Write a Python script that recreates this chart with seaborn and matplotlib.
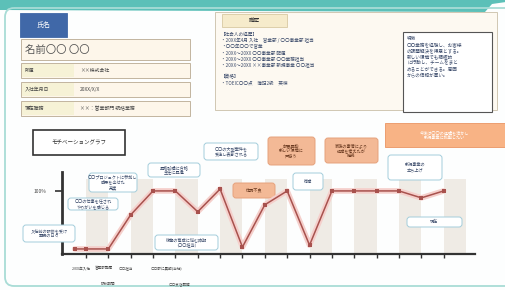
import numpy as np
import pandas as pd
import matplotlib.pyplot as plt
import seaborn as sns
from matplotlib.patches import FancyBboxPatch, Rectangle, Polygon

# motivation curve: stage index vs motivation (%)
stage = [-0.5, 0, 1, 2, 3, 4, 5, 6, 7, 8, 9, 10, 11, 12, 13, 14, 15, 16]
motivation = [8, 8, 8, 62, 100, 100, 67, 103, 11, 78, 100, 14, 100, 100, 100, 100, 89, 100]

# x tick labels under the chart (stage index, label, row)
tick_labels = [(-0.2, "20XX年入社", 0), (0.8, "営業部配属", 0), (1.8, "〇〇担当", 0),
               (1, "研修期間", 1), (3.6, "〇〇部に異動(当社)", 0), (4.2, "〇〇支店勤務", 1)]

profile_rows = [("所属", "××株式会社"), ("入社年月日", "20XX/X/X"),
                ("現在職務", "××：営業部門 統括業務")]

career_lines = ["【社会人の経歴】",
                "・20XX年4月 入社　営業部 / 〇〇事業部 担当",
                "・〇〇年〇〇で営業",
                "・20XX〜20XX 〇〇事業部 配属",
                "・20XX〜20XX 〇〇事業部 〇〇業務担当",
                "・20XX〜20XX ××事業部 新規事業 〇〇担当",
                "",
                "【資格】",
                "・TOEIC〇〇点　簿記2級　英検"]

feature_text = "特徴\n〇〇業務を経験し、お客様\nの課題解決を得意とする。\n新しい環境でも積極的\nに行動し、チームをまと\nめることができる。周囲\nからの信頼が厚い。"

# annotation boxes: (x0, y0, x1, y1) in pixels, text, kind
notes = [((23, 225, 75, 242), "入社前の研修を受け\n緊張の日々", "w"),
         ((68, 198, 118, 210), "〇〇の仕事を任され\nやりがいを感じる", "w"),
         ((89, 173, 137, 192), "〇〇プロジェクトに参加し\n成果を出せた\n充実", "w"),
         ((148, 163, 200, 177), "昇格試験に合格\n主任に昇進", "w"),
         ((204, 143, 258, 160), "〇〇の大型案件を\n受注し表彰される", "w"),
         ((155, 235, 218, 250), "後輩の育成に悩む時期\n（〇〇担当）", "w"),
         ((268, 137, 315, 165), "部署異動\n新しい環境に\n戸惑う", "o"),
         ((325, 138, 378, 163), "家族の事情により\n退職を考えたが\n継続", "o"),
         ((385, 123, 505, 147), "今後は〇〇の経験を活かし\n新規事業に挑戦したい", "O"),
         ((388, 155, 442, 180), "新規事業の\n立ち上げ", "w"),
         ((293, 173, 323, 190), "復職", "w"),
         ((407, 217, 462, 227), "現在", "w")]
# small note sitting behind the curve
back_note = ((233, 183, 275, 198), "体調不良")

sns.set_theme(style="white")
plt.rcParams['font.family'] = ['Noto Sans CJK JP', 'DejaVu Sans']

W, H = 506, 290
fig = plt.figure(figsize=(W / 100, H / 100), dpi=100)
fig.patch.set_facecolor("#fdfefe")


def pixel_axes(rect, z):
    a = fig.add_axes(rect)
    a.set_xlim(0, W)
    a.set_ylim(H, 0)
    a.axis("off")
    a.patch.set_alpha(0)
    a.set_zorder(z)
    return a


bg = pixel_axes([0, 0, 1, 1], 0)
fg = pixel_axes([0, 0, 1, 1], 2)

teal = "#5cc0b8"
bg.add_patch(Polygon([(0, 0), (506, 0), (506, 2), (492, 4), (485, 12), (0, 10)],
                     closed=True, color=teal, lw=0))
bg.add_patch(FancyBboxPatch((5, 8), 530, 278, boxstyle="round,pad=0,rounding_size=9",
                            fc="none", ec="#a8dcd6", lw=1.3))


def box(target, x0, y0, x1, y1, fc, ec, lw=0.6, rounded=False, **kw):
    style = "round,pad=0,rounding_size=3" if rounded else "square,pad=0"
    target.add_patch(FancyBboxPatch((x0, y0), x1 - x0, y1 - y0, boxstyle=style,
                                    fc=fc, ec=ec, lw=lw, **kw))


# profile block
box(bg, 20, 13, 67, 37, "#4068a8", "#4068a8")
bg.text(43.5, 25, "氏名", color="white", fontsize=5, ha="center", va="center")
box(bg, 21, 39, 190, 60, "#fdf6ea", "#b8aa92")
bg.text(25, 49.5, "名前〇〇 〇〇", fontsize=7.5, color="#555555", va="center")
for i, (lab, val) in enumerate(profile_rows):
    y0 = 63 + i * 19
    box(bg, 21, y0, 190, y0 + 15, "#fdf6ea", "#b8aa92")
    bg.add_patch(Rectangle((22, y0 + 1), 52, 13, fc="#f6f2d6", ec="none"))
    bg.text(25, y0 + 7.5, lab, fontsize=3.5, color="#444444", va="center")
    bg.text(80, y0 + 7.5, val, fontsize=3.5, color="#444444", va="center")

# career block
box(bg, 215, 12, 497, 110, "#fdf9f1", "#c9bfa8")
box(bg, 222, 14, 287, 27, "#f6ebcb", "#d8c9a2")
bg.text(254.5, 20.5, "職歴", fontsize=4, color="#333333", ha="center", va="center")
bg.text(221, 32, "\n".join(career_lines), fontsize=3.3, color="#3a4a6a",
        va="top", linespacing=1.25)
box(bg, 403, 32, 492, 112, "white", "#555555", lw=0.8)
bg.text(407, 36, feature_text, fontsize=3.3, color="#3a4a6a", va="top", linespacing=1.25)

# chart title box
box(bg, 33, 130, 125, 155, "white", "#333333", lw=1.2)
bg.text(79, 142.5, "モチベーショングラフ", fontsize=4, color="#333333", ha="center", va="center")

# chart axes
x0, x1, yb, yt = 62, 475, 254, 172
ax = fig.add_axes([x0 / W, (H - yb) / H, (x1 - x0) / W, (yb - yt) / H])
ax.patch.set_alpha(0)
ax.set_zorder(1)
ax.set_xlim(-1.07, 17.4)
ax.set_ylim(0, 130)
for k in range(0, 17, 2):
    ax.axvspan(k, k + 1, ymax=0.92, color="#efebe5", lw=0, zorder=0)

# note behind the curve, above the bands
(a, b, c, d), txt = back_note
box(ax, a, b, c, d, "#f3b996", "#e6a27c", lw=0.7, rounded=True,
    transform=bg.transData, zorder=1, clip_on=False)
ax.text((a + c) / 2, (b + d) / 2, txt, fontsize=3, color="#6a3a20", ha="center",
        va="center", transform=bg.transData, zorder=1)

df = pd.DataFrame({"stage": stage, "motivation": motivation})
sns.lineplot(data=df, x="stage", y="motivation", ax=ax, color="#f5cfcb",
             lw=4, zorder=2, legend=False)
sns.lineplot(data=df, x="stage", y="motivation", ax=ax, color="#a8524e",
             lw=1.1, marker="s", markersize=2.5, markeredgewidth=0,
             zorder=3, legend=False)

ax.set_xlabel("")
ax.set_ylabel("")
ax.set_xticks(range(0, 17))
ax.set_xticklabels([])
ax.set_yticks([100])
ax.set_yticklabels(["100%"], fontsize=3.5, color="#444444")
ax.tick_params(axis="x", direction="out", length=3, width=1, color="#333333", bottom=True)
ax.tick_params(axis="y", direction="out", length=5, width=1.2, color="#333333", left=True, pad=6)
for side in ["top", "right"]:
    ax.spines[side].set_visible(False)
ax.spines["left"].set_color("#333333")
ax.spines["left"].set_linewidth(2)
ax.spines["bottom"].set_color("#333333")
ax.spines["bottom"].set_linewidth(1.6)

for pos, lab, row in tick_labels:
    ax.annotate(lab, xy=(pos, 0), xytext=(0, -9 - row * 11), textcoords="offset points",
                fontsize=2.6, color="#444444", ha="center", va="top", annotation_clip=False)

# annotation boxes on top of the curve
for (a, b, c, d), txt, kind in notes:
    if kind == "w":
        box(fg, a, b, c, d, "white", "#a3cddb", lw=0.7, rounded=True)
        col = "#3a4a6a"
    elif kind == "o":
        box(fg, a, b, c, d, "#f3b996", "#e6a27c", lw=0.7, rounded=True)
        col = "#6a3a20"
    else:
        box(fg, a, b, c, d, "#f8b385", "#ec9e70", lw=0.7, rounded=False)
        col = "#ffffff"
    fg.text((a + c) / 2, (b + d) / 2, txt, fontsize=3, color=col,
            ha="center", va="center", linespacing=1.2)

fig.savefig("out.png", dpi=100)
